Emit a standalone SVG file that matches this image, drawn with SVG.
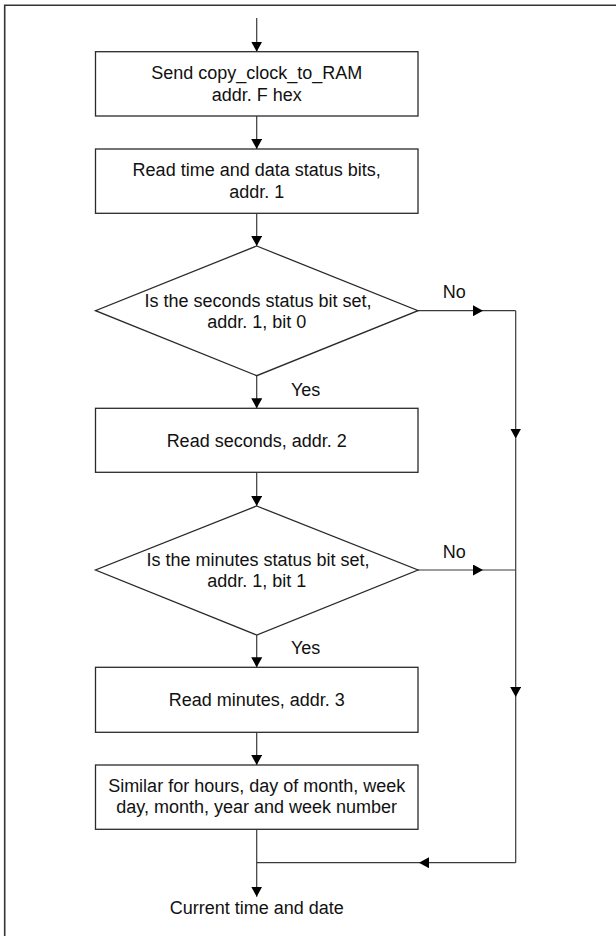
<svg xmlns="http://www.w3.org/2000/svg" width="616" height="936" viewBox="0 0 616 936">
<style>
  .node { fill: #ffffff; stroke: #2a2a2a; stroke-width: 1.3; }
  .conn { fill: none; stroke: #3a3a3a; stroke-width: 1.2; }
  .t { font-family: "Liberation Sans", Arial, sans-serif; font-size: 18px; fill: #111111; text-anchor: middle; }
  .lbl { font-family: "Liberation Sans", Arial, sans-serif; font-size: 18px; fill: #111111; }
  .frame { fill: none; stroke: #333333; stroke-width: 1.6; }
</style>
<defs>
  <marker id="ah" viewBox="0 0 10 11" refX="10" refY="5.5" markerWidth="10" markerHeight="11" markerUnits="userSpaceOnUse" orient="auto">
    <path d="M0,0 L10,5.5 L0,11 Z" fill="#000000"/>
  </marker>
</defs>
<rect width="616" height="936" fill="#ffffff"/>
<path class="frame" d="M4.7,940 L4.7,5.3 L620,5.3"/>

<g id="connectors">
  <line class="conn" x1="256.7" y1="18" x2="256.7" y2="51.7" marker-end="url(#ah)"/>
  <line class="conn" x1="256.7" y1="116" x2="256.7" y2="149" marker-end="url(#ah)"/>
  <line class="conn" x1="256.7" y1="213.3" x2="256.7" y2="246" marker-end="url(#ah)"/>
  <line class="conn" x1="256.7" y1="375.7" x2="256.7" y2="408.3" marker-end="url(#ah)"/>
  <line class="conn" x1="256.7" y1="472.3" x2="256.7" y2="506" marker-end="url(#ah)"/>
  <line class="conn" x1="256.7" y1="635" x2="256.7" y2="667.3" marker-end="url(#ah)"/>
  <line class="conn" x1="256.7" y1="732.3" x2="256.7" y2="765" marker-end="url(#ah)"/>
  <line class="conn" x1="256.7" y1="829.3" x2="256.7" y2="896.7" marker-end="url(#ah)"/>
  <!-- No branch 1 -->
  <line class="conn" x1="418" y1="310.7" x2="483" y2="310.7" marker-end="url(#ah)"/>
  <line class="conn" x1="483" y1="310.7" x2="515.7" y2="310.7"/>
  <!-- No branch 2 -->
  <line class="conn" x1="418" y1="570" x2="483" y2="570" marker-end="url(#ah)"/>
  <line class="conn" x1="483" y1="570" x2="515.7" y2="570"/>
  <!-- right bus -->
  <line class="conn" x1="515.7" y1="310.7" x2="515.7" y2="438.5" marker-end="url(#ah)"/>
  <line class="conn" x1="515.7" y1="438.5" x2="515.7" y2="697" marker-end="url(#ah)"/>
  <line class="conn" x1="515.7" y1="697" x2="515.7" y2="862.7"/>
  <line class="conn" x1="515.7" y1="862.7" x2="419" y2="862.7" marker-end="url(#ah)"/>
  <line class="conn" x1="419" y1="862.7" x2="256.7" y2="862.7"/>
</g>

<g id="box1">
  <rect class="node" x="95.5" y="51.7" width="322.5" height="64.3"/>
  <text class="t" x="256.7" y="79">Send copy_clock_to_RAM</text>
  <text class="t" x="256.7" y="100.5">addr. F hex</text>
</g>
<g id="box2">
  <rect class="node" x="95.5" y="149" width="322.5" height="64.3"/>
  <text class="t" x="256.7" y="176">Read time and data status bits,</text>
  <text class="t" x="256.7" y="197.5">addr. 1</text>
</g>
<g id="dec1">
  <polygon class="node" points="256.7,246 418,310.7 256.7,375.7 95.5,310.7"/>
  <text class="t" x="258" y="306.7">Is the seconds status bit set,</text>
  <text class="t" x="256.7" y="327.7">addr. 1, bit 0</text>
  <text class="lbl" x="442.7" y="297.7">No</text>
  <text class="lbl" x="291" y="395.7">Yes</text>
</g>
<g id="box3">
  <rect class="node" x="95.5" y="408.3" width="322.5" height="64"/>
  <text class="t" x="256.7" y="446.7">Read seconds, addr. 2</text>
</g>
<g id="dec2">
  <polygon class="node" points="256.7,506 418,570 256.7,635 95.5,570"/>
  <text class="t" x="258" y="565.7">Is the minutes status bit set,</text>
  <text class="t" x="256.7" y="586.7">addr. 1, bit 1</text>
  <text class="lbl" x="442.7" y="558">No</text>
  <text class="lbl" x="291" y="654">Yes</text>
</g>
<g id="box4">
  <rect class="node" x="95.5" y="667.3" width="322.5" height="65"/>
  <text class="t" x="256.7" y="705.5">Read minutes, addr. 3</text>
</g>
<g id="box5">
  <rect class="node" x="95.5" y="765" width="322.5" height="64.3"/>
  <text class="t" x="256.7" y="791.7">Similar for hours, day of month, week</text>
  <text class="t" x="256.7" y="813.3">day, month, year and week number</text>
</g>
<g id="end">
  <text class="t" x="256.7" y="914">Current time and date</text>
</g>
</svg>
